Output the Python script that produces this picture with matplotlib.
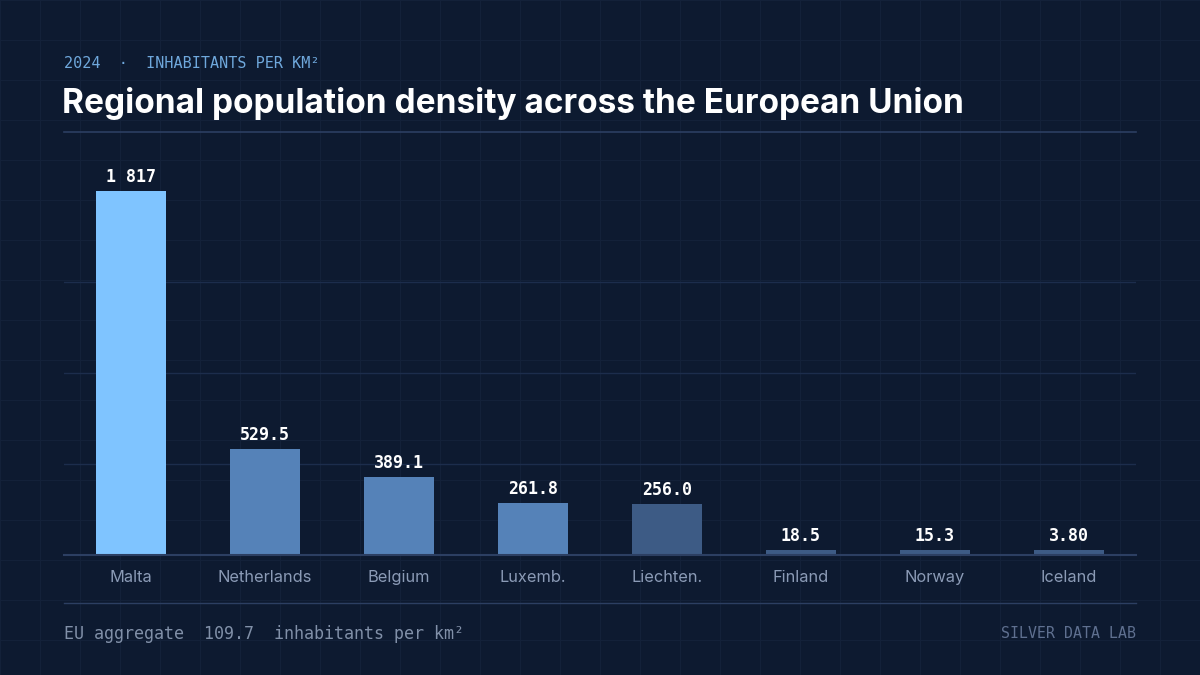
import numpy as np
import matplotlib.pyplot as plt
from matplotlib.lines import Line2D

# data
countries = ['Malta', 'Netherlands', 'Belgium', 'Luxemb.', 'Liechten.', 'Finland', 'Norway', 'Iceland']
density = [1817, 529.5, 389.1, 261.8, 256.0, 18.5, 15.3, 3.80]
labels = ['1 817', '529.5', '389.1', '261.8', '256.0', '18.5', '15.3', '3.80']
eu_aggregate = 109.7

BG = '#0d1a30'
GRID_BG = '#132139'
RULE = '#2c3f62'
COLORS = ['#7fc4ff', '#5582b8', '#5582b8', '#5582b8', '#3d5b85', '#3d5b85', '#3d5b85', '#3d5b85']

W, H = 1200, 675
fig = plt.figure(figsize=(12, 6.75), dpi=100, facecolor=BG)

# faint background grid every 40px
bg = fig.add_axes([0, 0, 1, 1], zorder=-5)
bg.set_xlim(0, W)
bg.set_ylim(H, 0)
bg.set_facecolor(BG)
bg.axis('off')
for x in np.arange(0, W + 1, 40):
    bg.axvline(x, color=GRID_BG, lw=0.8)
for y in np.arange(0, H + 1, 40):
    bg.axhline(y, color=GRID_BG, lw=0.8)

def fx(px):
    return px / W

def fy(py):
    return 1 - py / H

# header
fig.text(fx(64), fy(63), '2024  ·  INHABITANTS PER KM²', family='DejaVu Sans Mono',
         fontsize=10.9, color='#6fa8dc', va='center', ha='left')
fig.text(fx(62), fy(103), 'Regional population density across the European Union',
         family='Inter', fontweight='bold', fontsize=24, color='white', va='center', ha='left')
fig.add_artist(Line2D([fx(64), fx(1136)], [fy(132), fy(132)], color=RULE, lw=1.2))

# main chart
ax = fig.add_axes([fx(64), fy(555), fx(1136) - fx(64), fy(191) - fy(555)])
ax.set_facecolor('none')
ymax = max(density)
ax.set_xlim(-0.5, len(countries) - 0.5)
ax.set_ylim(0, ymax)

# tiny values still get a visible sliver
shown = [max(v, ymax * 0.014) for v in density]
x = np.arange(len(countries))
ax.bar(x, shown, width=0.52, color=COLORS, zorder=3)

for i, (h, lab) in enumerate(zip(shown, labels)):
    ax.annotate(lab, (i, h), xytext=(0, 3.5), textcoords='offset points',
                ha='center', va='bottom', family='DejaVu Sans Mono', fontweight='bold',
                fontsize=12, color='white')

ax.set_yticks([ymax * 0.25, ymax * 0.5, ymax * 0.75])
ax.yaxis.grid(True, color='#1c2d4c', lw=1)
ax.set_axisbelow(True)
ax.tick_params(axis='y', left=False, labelleft=False)
ax.set_xticks(x)
ax.set_xticklabels(countries, family='Inter', fontsize=11.8, color='#8b9bb6')
ax.tick_params(axis='x', length=0, pad=10.5)
for s in ['top', 'right', 'left']:
    ax.spines[s].set_visible(False)
ax.spines['bottom'].set_color(RULE)
ax.spines['bottom'].set_linewidth(1.5)
ax.spines['bottom'].set_zorder(4)

# footer
fig.add_artist(Line2D([fx(64), fx(1136)], [fy(603), fy(603)], color=RULE, lw=1))
fig.text(fx(64), fy(634), f'EU aggregate  {eu_aggregate}  inhabitants per km²',
         family='DejaVu Sans Mono', fontsize=12, color='#8190a8', va='center', ha='left')
fig.text(fx(1136), fy(634), 'SILVER DATA LAB', family='DejaVu Sans Mono',
         fontsize=10.7, color='#5f7090', va='center', ha='right')

fig.savefig('out.png', dpi=100, facecolor=BG)
